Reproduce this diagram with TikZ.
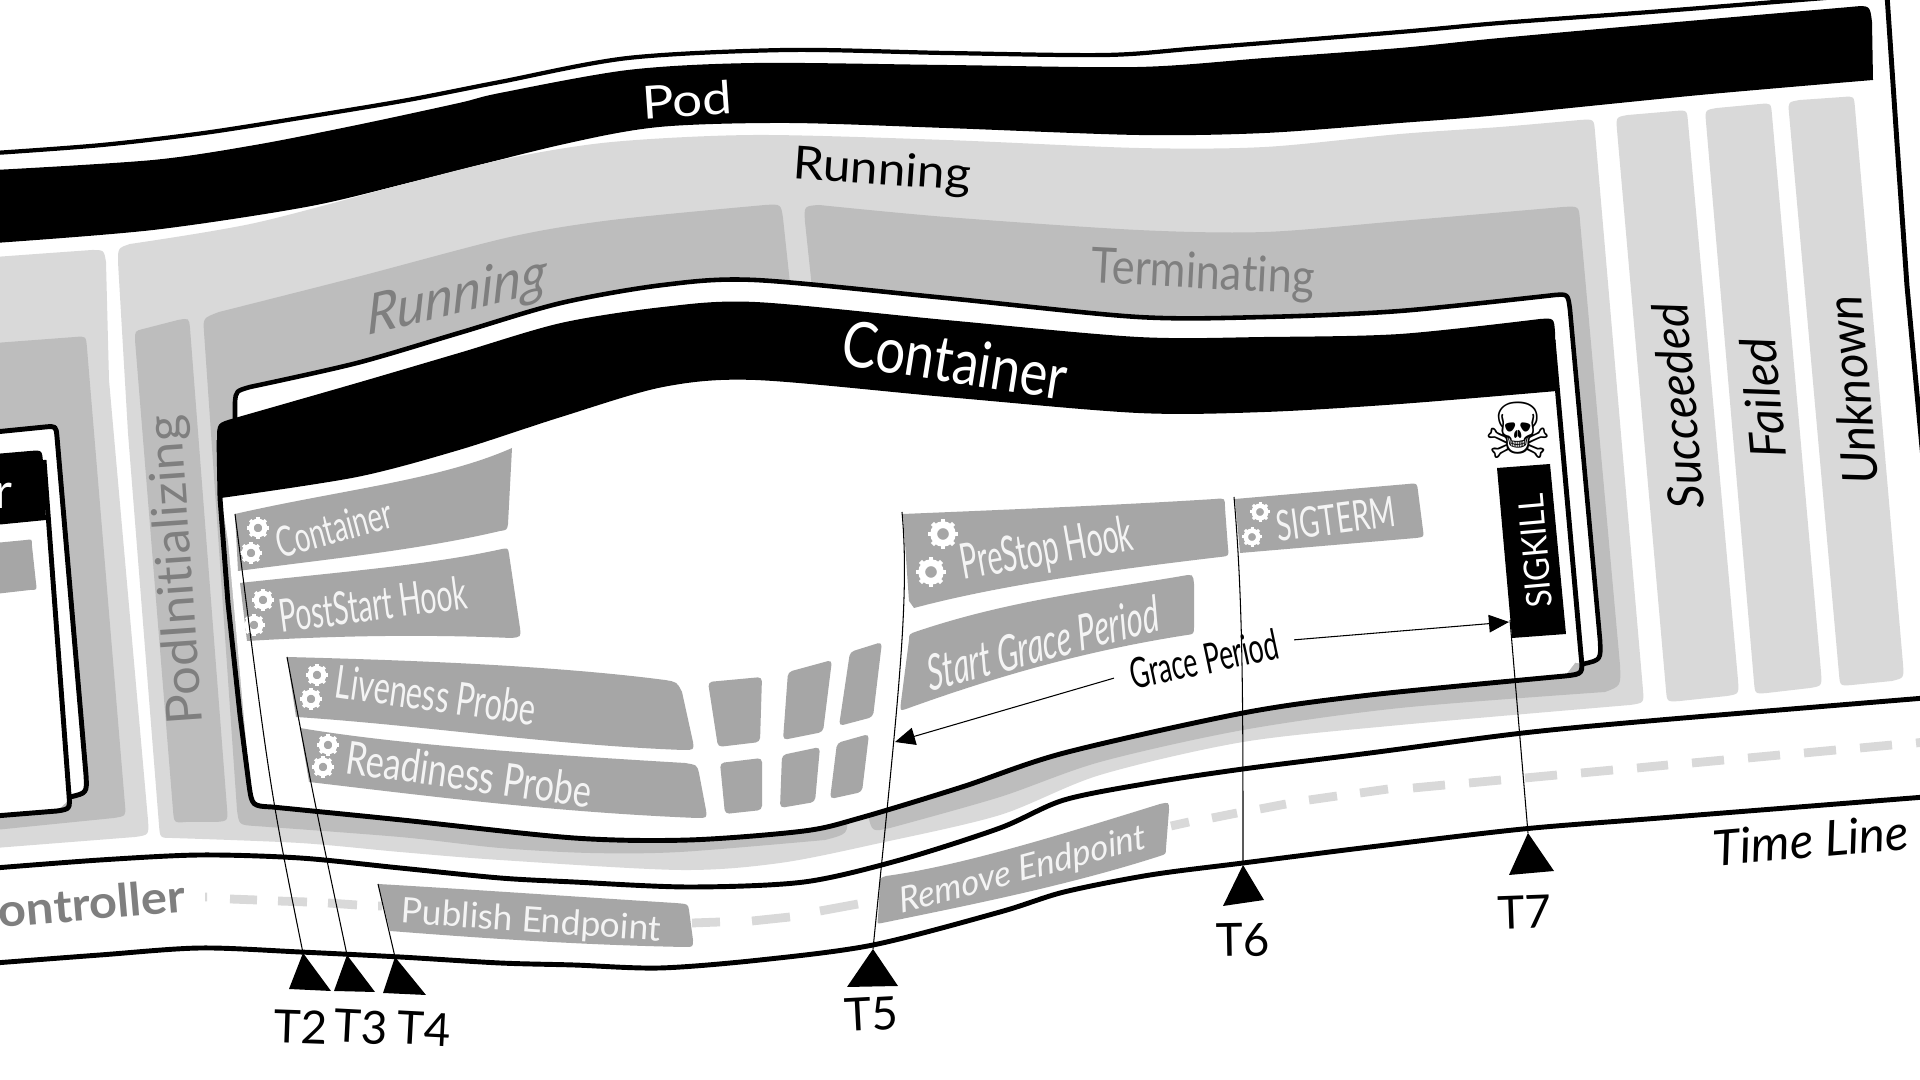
\documentclass[tikz,border=0pt]{standalone}
\usepackage{fontspec}
\setmainfont{Lato}[Ligatures=NoCommon]
\newfontfamily\symfont{DejaVu Sans}
\usetikzlibrary{arrows.meta}
\definecolor{lightg}{HTML}{D9D9D9}
\definecolor{midg}{HTML}{BDBDBD}
\definecolor{blockg}{HTML}{A6A6A6}
\definecolor{textg}{HTML}{7F7F7F}
\definecolor{softw}{HTML}{F4F4F4}
\newcommand\fs[1]{\fontsize{#1}{#1}\selectfont}
\newcommand\gearat[3]{\begin{scope}[shift={(#1,#2)}]
  \draw[white,line width=#3*0.128pt] (0,0) circle (#3*0.62);
  \foreach \a in {0,45,...,315}{\draw[white,line width=#3*0.085pt] (\a:#3*0.6) -- (\a:#3);}
\end{scope}}
\tikzset{
  txt/.style={inner sep=0pt,outer sep=0pt,text=black},
  gtxt/.style={txt,text=textg},
  wtxt/.style={txt,text=softw},
  framed/.style={draw=black,line width=1.4pt,line join=round},
  tline/.style={draw=black,line width=0.3pt},
  tri/.style={fill=black},
  dashg/.style={draw=lightg,line width=2.5pt},
  tile/.style={fill=blockg,rounded corners=1.2pt},
}
\begin{document}
\begin{tikzpicture}[x=0.01cm,y=-0.01cm]
\useasboundingbox (0,0) rectangle (1920,1080);
\clip (0,0) rectangle (1920,1080);
\fill[white] (0,0) rectangle (1920,1080);

% --- Pod frame
\draw[framed,line width=1.2pt] plot[smooth] coordinates {(-5,153)(102,145)(204,133)(306,117)(408,100)(500,82)(628,58)(787,50)(946,53)(1106,55)(1201,48)(1400,32)(1500,23)(1650,12)(1800,0)(1900,-8)};
\draw[framed] (1887,-5) -- (1897,143) -- (1907,286) -- (1925,480);
\draw[framed] plot[smooth] coordinates {(-5,868)(100,860)(200,855)(300,858)(400,868)(500,878)(574,882)(689,887)(804,882)(900,860)(1000,828)(1064,800)(1150,783)(1243,769)(1370,753)(1523,733)(1660,720)(1925,698)};
\draw[framed] plot[smooth] coordinates {(-5,963)(100,955)(200,948)(300,952)(400,957)(500,963)(574,965)(660,968)(760,960)(873,945)(1000,912)(1064,892)(1150,875)(1243,863)(1370,847)(1523,829)(1660,818)(1925,797)};

% --- Pod band
\fill[black] plot[smooth] coordinates {(-5,170)(153,160)(255,145)(357,125)(459,103)(500,93)(628,70)(755,63)(946,65)(1138,67)(1265,58)(1400,48)(1500,38)(1700,20)(1850,7)}
  .. controls (1870,5) .. (1872,22) -- (1873,80)
  -- plot[smooth] coordinates {(1873,80)(1700,95)(1500,115)(1400,123)(1265,133)(1138,135)(946,128)(787,123)(659,127)(560,145)(408,183)(306,207)(153,230)(-5,243)} -- cycle;

% --- Light grey phases
\fill[lightg] plot[smooth] coordinates {(-5,257)(50,253)(92,250)} .. controls (104,250) .. (106,262) -- (109,380) -- (148,820) .. controls (149,835) .. (135,837) -- (-5,848) -- cycle;
\fill[lightg] (118,262) .. controls (118,248) .. (130,244)
  -- plot[smooth] coordinates {(130,244)(255,223)(408,183)(510,158)(612,142)(755,135)(946,140)(1138,148)(1265,147)(1400,134)(1500,127)(1580,120)}
  .. controls (1594,119) .. (1595,132) -- (1643,690) .. controls (1644,703) .. (1630,705)
  -- plot[smooth] coordinates {(1630,705)(1400,725)(1243,742)(1100,775)(1000,815)(880,843)(780,863)(680,870)(500,860)(400,852)(300,843)(172,838)}
  .. controls (160,838) .. (159,825) -- (128,433) -- cycle;
\fill[lightg] (1617,130) .. controls (1616,117) .. (1628,115) -- (1675,111) .. controls (1687,110) .. (1688,122) -- (1738,680) .. controls (1739,694) .. (1727,696) -- (1680,701) .. controls (1667,702) .. (1666,690) -- cycle;
\fill[lightg] (1706,122) .. controls (1705,110) .. (1717,108) -- (1760,104) .. controls (1771,103) .. (1772,115) -- (1821,672) .. controls (1822,686) .. (1810,688) -- (1767,693) .. controls (1755,694) .. (1754,682) -- cycle;
\fill[lightg] (1789,113) .. controls (1788,102) .. (1800,100) -- (1843,97) .. controls (1854,96) .. (1855,108) -- (1903,664) .. controls (1904,678) .. (1892,681) -- (1852,685) .. controls (1840,686) .. (1839,674) -- cycle;

% --- Mid grey phases
\fill[midg] (-5,343) -- (75,337) .. controls (86,336) .. (87,348) -- (125,805) .. controls (126,816) .. (114,818) -- (-5,830) -- cycle;
\fill[midg] (135,340) .. controls (135,331) .. (143,329) -- (178,320) .. controls (189,318) .. (190,328) -- (227,808) .. controls (228,821) .. (216,822) -- (186,822) .. controls (174,823) .. (173,810) -- cycle;
\fill[midg] (204,332) .. controls (203,318) .. (219,312)
  -- plot[smooth] coordinates {(219,312)(357,277)(510,237)(612,220)(765,205)}
  .. controls (781,204) .. (783,218) -- (847,815) .. controls (848,834) .. (825,840)
  -- plot[smooth] coordinates {(825,840)(680,852)(590,853)(500,848)(400,837)(255,826)}
  .. controls (239,825) .. (237,810) -- cycle;
\fill[midg] (805,222) .. controls (804,206) .. (819,205)
  -- plot[smooth] coordinates {(819,205)(946,217)(1138,230)(1265,232)(1400,221)(1563,207)}
  .. controls (1579,206) .. (1580,221) -- (1620,665) .. controls (1621,686) .. (1605,692)
  -- plot[smooth] coordinates {(1605,692)(1400,708)(1243,730)(1100,762)(1000,797)(890,828)}
  .. controls (872,832) .. (868,815) -- cycle;

% --- Left (cut off) container
\fill[white] (-5,431) -- (45,427) .. controls (56,426) .. (57,437) -- (86,775) .. controls (87,793) .. (72,797) -- (57,811) -- (-5,815) -- cycle;
\draw[framed] (-5,432) -- (45,427) .. controls (56,426) .. (57,437) -- (86,775) .. controls (87,793) .. (70,797);
\fill[black] (-5,454) -- (30,451) .. controls (42,450) .. (43,462) -- (46,520) -- (-5,525) -- cycle;
\draw[framed] (44,460) -- (69,795) .. controls (70,809) .. (57,811) -- (-5,816);
\fill[blockg] (-5,543) -- (26,540) .. controls (32,539) .. (32,546) -- (36,583) .. controls (37,590) .. (30,590) -- (-5,594) -- cycle;
\node[wtxt,text=white,font=\fs{14}] (leftr) at (3,496) {r};

% --- Main container, back card
\path[fill=white] (235,420) -- (235,402) .. controls (236,391) .. (250,387)
  -- plot[smooth] coordinates {(250,387)(357,363)(459,333)(561,303)(663,285)(755,280)(946,298)(1138,317)(1265,317)(1400,311)(1555,295)}
  .. controls (1568,294) .. (1570,310) -- (1600,640) .. controls (1601,660) .. (1583,664) -- cycle;
\draw[framed,line width=1.3pt] (235,420) -- (235,402) .. controls (236,391) .. (250,387)
  -- plot[smooth] coordinates {(250,387)(357,363)(459,333)(561,303)(663,285)(755,280)(946,298)(1138,317)(1265,317)(1400,311)(1555,295)}
  .. controls (1568,294) .. (1570,310) -- (1600,640) .. controls (1601,660) .. (1583,664);

% --- Main container, front card
\path[fill=white] (219,440) -- (1555,330) -- (1581,655) -- (1565,676)
  -- plot[smooth] coordinates {(1565,676)(1370,695)(1243,713)(1064,753)(962,787)(860,818)(804,831)(689,840)(574,838)(402,820)(272,807)}
  .. controls (254,806) .. (250,785) -- cycle;
\fill[white] (221,498) -- (800,300) -- (1553,391) -- (1581,655) -- (272,807) -- cycle;
\draw[framed] (219,440) -- (220,498) -- (228,603) -- (240,715) -- (249,785)
  .. controls (252,806) .. (272,807)
  -- plot[smooth] coordinates {(272,807)(402,820)(574,838)(689,840)(804,831)(860,818)(962,787)(1064,753)(1243,713)(1370,695)(1565,676)}
  .. controls (1583,674) .. (1581,655) -- (1553,340);
\fill[black] (217,440) .. controls (217,423) .. (235,418)
  -- plot[smooth] coordinates {(235,418)(357,383)(459,353)(561,323)(663,307)(755,302)(946,320)(1138,337)(1265,337)(1400,334)(1540,319)}
  .. controls (1554,318) .. (1555,332) -- (1557,391)
  -- plot[smooth] coordinates {(1557,391)(1400,404)(1265,412)(1138,413)(946,397)(755,380)(663,387)(561,417)(459,450)(357,477)(221,498)} -- cycle;

% --- Grey blocks
\fill[blockg] (235,514) .. controls (340,490) and (440,480) .. (512,448) -- (508,524) .. controls (507,530) .. (500,531) .. controls (420,550) and (320,560) .. (238,571) -- cycle;
\fill[blockg] (240,583) .. controls (340,572) and (430,565) .. (502,549) .. controls (508,548) .. (509,554) -- (520,628) .. controls (521,637) .. (511,638) .. controls (420,634) and (330,636) .. (247,641) -- cycle;
\fill[blockg] (287,657) .. controls (400,660) and (550,665) .. (665,680) .. controls (677,682) .. (682,692) -- (693,742) .. controls (694,750) .. (683,750) .. controls (550,745) and (420,725) .. (296,717) -- cycle;
\fill[blockg] (300,728) .. controls (400,745) and (550,755) .. (685,763) .. controls (697,765) .. (699,773) -- (706,810) .. controls (707,818) .. (697,818) .. controls (550,812) and (420,795) .. (309,782) -- cycle;
\fill[tile] (708,682) -- (762,677) -- (760,742) -- (718,747) -- cycle;
\fill[tile] (788,672) -- (832,660) -- (823,732) -- (783,740) -- cycle;
\fill[tile] (850,652) -- (882,642) -- (873,717) -- (839,726) -- cycle;
\fill[tile] (720,763) -- (762,758) -- (762,810) -- (725,814) -- cycle;
\fill[tile] (782,755) -- (820,747) -- (815,802) -- (780,808) -- cycle;
\fill[tile] (837,743) -- (869,734) -- (862,792) -- (830,799) -- cycle;
\fill[blockg] (903,514) .. controls (1000,510) and (1120,505) .. (1215,499) .. controls (1225,498) .. (1225,508) -- (1228,548) .. controls (1229,556) .. (1220,557) .. controls (1110,570) and (1000,585) .. (914,608) -- (909,601) -- cycle;
\fill[blockg] (909,640) .. controls (909,634) .. (918,631) .. controls (1010,600) and (1100,590) .. (1182,576) .. controls (1193,574) .. (1194,584) -- (1194,626) .. controls (1194,634) .. (1187,635) .. controls (1090,650) and (1000,675) .. (906,709) .. controls (900,711) .. (901,702) -- cycle;
\fill[blockg] (1235,499) -- (1408,484) .. controls (1417,483) .. (1418,491) -- (1423,530) .. controls (1424,537) .. (1416,538) -- (1240,553) -- cycle;
\fill[blockg] (378,884) .. controls (480,890) and (580,897) .. (675,903) .. controls (688,904) .. (689,910) -- (693,940) .. controls (693,947) .. (685,947) .. controls (580,945) and (480,938) .. (390,931) -- cycle;
\fill[blockg] (886,876) .. controls (960,866) and (1060,835) .. (1160,804) .. controls (1169,802) .. (1169,810) -- (1166,848) .. controls (1166,854) .. (1160,856) .. controls (1070,885) and (970,905) .. (882,923) .. controls (877,924) .. (878,918) -- (880,884) .. controls (880,878) .. (886,876) -- cycle;
\fill[black] (1497,468) -- (1550,464) -- (1566,634) -- (1512,638) -- cycle;

% --- Dashes
\draw[dashg] (205,897) -- (207,897) (230,899) -- (257,900) (278,901) -- (307,902) (328,903) -- (357,905) (378,906) -- (382,906)
  (692,923) -- (720,922) (752,921) -- (790,917) (820,911) -- (858,904)
  (1171,826) -- (1189,822) (1212,818) -- (1237,813) (1260,809) -- (1286,804) (1309,800) -- (1337,796) (1360,793) -- (1388,789)
  (1413,788) -- (1445,785) (1469,783) -- (1501,780) (1525,778) -- (1557,775) (1581,773) -- (1613,770) (1637,768) -- (1668,765) (1692,763) -- (1724,760) (1748,758) -- (1780,755) (1804,753) -- (1836,750) (1860,748) -- (1892,745) (1916,743) -- (1925,742);

% --- Gears
\gearat{258}{528}{11}
\gearat{251}{553}{11}
\gearat{263}{600}{11}
\gearat{254}{625}{11}
\gearat{317}{675}{11}
\gearat{311}{699}{11}
\gearat{328}{745}{11}
\gearat{323}{767}{11}
\gearat{943}{534}{15}
\gearat{931}{572}{15}
\gearat{1260}{512}{10}
\gearat{1252}{537}{10}
\node[txt,font=\symfont\fs{22}] (skull) at (1518,430) {☠};

% --- Labels
\node[wtxt,text=white,font=\fs{13},rotate=4,xscale=1.16] (podl) at (687,100) {Pod};
\node[txt,font=\fs{13},rotate=-4,xscale=1.08] (runl) at (882,172) {Running};
\node[wtxt,text=white,font=\fs{18},rotate=-9,xscale=.83] (contl) at (955,360) {Container};
\node[gtxt,font=\itshape\fs{15.5},rotate=14,xslant=.25] (runi) at (457,298) {Running};
\node[gtxt,font=\fs{14},rotate=-3,xscale=.88] (term) at (1203,275) {Terminating};
\node[gtxt,font=\fs{14},rotate=94,xscale=1.03] (podi) at (178,570) {PodInitializing};
\node[txt,font=\itshape\fs{14},rotate=95,xscale=.95] (succ) at (1678,406) {Succeeded};
\node[txt,font=\itshape\fs{14},rotate=95] (fail) at (1763,398) {Failed};
\node[txt,font=\itshape\fs{14},rotate=95,xscale=.97] (unkn) at (1852,390) {Unknown};
\node[gtxt,font=\bfseries\fs{13},rotate=5,xscale=1.07] (ctrl) at (92,903) {ontroller};
\node[txt,font=\itshape\fs{14},rotate=5] (timel) at (1811,840) {Time Line};
\node[wtxt,font=\fs{12},rotate=15,xscale=.65] (l1) at (334,528) {Container};
\node[wtxt,font=\fs{13},rotate=7.5,xscale=.62] (l2) at (373,604) {PostStart Hook};
\node[wtxt,font=\fs{13},rotate=-8,xscale=.67] (l3) at (436,695) {Liveness Probe};
\node[wtxt,font=\fs{13},rotate=-8,xscale=.75] (l4) at (469,774) {Readiness Probe};
\node[wtxt,font=\fs{10},rotate=-4] (l5) at (531,922) {Publish Endpoint};
\node[wtxt,font=\itshape\fs{10},rotate=15,xslant=.1] (l6) at (1023,871) {Remove Endpoint};
\node[wtxt,font=\fs{14},rotate=10,xscale=.58] (l7) at (1047,551) {PreStop Hook};
\node[wtxt,font=\itshape\fs{14},rotate=15,xscale=.64,xslant=.15] (l8) at (1043,643) {Start Grace Period};
\node[wtxt,font=\fs{12},rotate=7.5,xscale=.66] (l9) at (1336,519) {SIGTERM};
\node[wtxt,text=white,font=\fs{10},rotate=95,xscale=.92] (l10) at (1535,551) {SIGKILL};
\node[txt,font=\fs{12},rotate=12,xscale=.63,inner xsep=7.6pt] (grace) at (1204,659) {Grace Period};

% --- Time marks
\coordinate (aT2) at (303,953);
\coordinate (aT3) at (347,955);
\coordinate (aT4) at (395,957);
\coordinate (aT5) at (873,949);
\coordinate (aT6) at (1243,865);
\coordinate (aT7) at (1528,833);
\coordinate (bT2) at (235,514);
\coordinate (bT3) at (287,657);
\coordinate (bT4) at (378,884);
\coordinate (bT5) at (902,512);
\coordinate (bT6) at (1234,497);
\coordinate (bT7) at (1510,620);
\coordinate (gpA) at (895,742);
\coordinate (gpB) at (1509,622);
\fill[tri] (aT2) -- (289,989) -- (331,991) -- cycle;
\fill[tri] (aT3) -- (334,991) -- (375,992) -- cycle;
\fill[tri] (aT4) -- (383,993) -- (426,995) -- cycle;
\fill[tri] (aT5) -- (847,987) -- (898,986) -- cycle;
\fill[tri] (aT6) -- (1223,906) -- (1264,900) -- cycle;
\fill[tri] (aT7) -- (1509,875) -- (1554,871) -- cycle;
\draw[tline] (aT2) .. controls (270,790) .. (bT2);
\draw[tline] (aT3) .. controls (312,790) .. (bT3);
\draw[tline] (aT4) -- (bT4);
\draw[tline] (aT5) .. controls (898,700) and (910,600) .. (bT5);
\draw[tline] (aT6) .. controls (1243,700) and (1243,600) .. (bT6);
\draw[tline] (aT7) -- (bT7);
\draw[tline,-{Triangle[length=5.7pt,width=5pt]}] (grace.west) -- (gpA);
\draw[tline,-{Triangle[length=5.7pt,width=5pt]}] (grace.east) -- (gpB);
\node[txt,font=\fs{13},rotate=-2] (T2) at (301,1027) {T2};
\node[txt,font=\fs{13},rotate=-3] (T3) at (361,1027) {T3};
\node[txt,font=\fs{13},rotate=-3] (T4) at (424,1029) {T4};
\node[txt,font=\fs{13},rotate=3] (T5) at (871,1014) {T5};
\node[txt,font=\fs{13},rotate=1] (T6) at (1243,940) {T6};
\node[txt,font=\fs{13},rotate=2] (T7) at (1525,912) {T7};
\end{tikzpicture}
\end{document}
